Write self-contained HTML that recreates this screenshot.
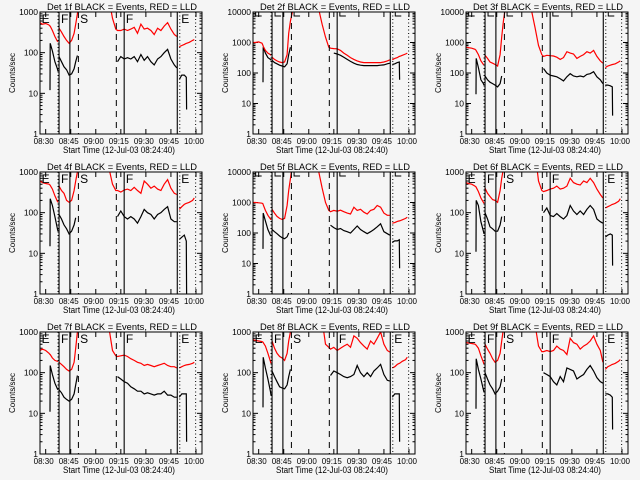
<!DOCTYPE html>
<html><head><meta charset="utf-8"><style>
html,body{margin:0;padding:0;background:#f5f5f5;}
svg{display:block;font-family:"Liberation Sans",sans-serif;}
</style></head><body>
<svg id="chart" width="640" height="480" viewBox="0 0 640 480" xmlns="http://www.w3.org/2000/svg">
<rect x="0" y="0" width="640" height="480" fill="#f5f5f5"/>
</svg>
<script>
// shared time grid (minutes relative to 08:30)
const times = [-3.4,-2,0,2,2.6,2.7,4,5.5,7,7.4, 8,9.5,11,12.5,14,15.5,17,18,19,20,21, 36,38,40,42,43,45,47,49,51,53,55,57,59,61,63,65,67,69,71,73,75,77,78.6, 80,81.5,83,84.2,84.4,86,88,89];
const segStarts = [0,10,21,44,52];
const xTickLabels = ["08:30","08:45","09:00","09:15","09:30","09:45","10:00"];
const xTickValues = [0,15,30,45,60,75,90];
const detNames = ["1f","2f","3f","4f","5f","6f","7f","8f","9f"];
const yMaxDecade = [3,4,4,3,4,3,3,3,3];
const dottedLines = [7.4,80.3,89.8];
const solidLines = [8,14.5,47,78.8];
const dashedLines = [19.6,42.3];
const markerLetters = ["E","F","S","F","E"];
const markerTimes = [-3.0,8.6,20.0,47.4,80.6];
const n = null;
const red1 = [550,500,520,480,450,450,350,250,190,185, 400,320,250,200,170,200,300,500,900,2000,5000, 5000,2000,700,380,350, 350,380,350,380,420,300,500,380,400,350,280,400,350,450,550,380,280, 250, 140,150,160,170,170,180,200,210];
const blk1 = [n,n,n,n,12,170,110,60,40,35, 80,60,45,38,28,30,40,60,85,n,n, n,n,n,n,60, 80,70,75,70,80,60,90,65,80,60,50,70,80,100,120,70,50, 42, 22,28,28,25,4,n,n,n];
const red2 = [1000,1000,1050,950,800,750,550,450,400,380, 330,280,250,230,220,230,400,2000,5000,9000,15000, 12000,4000,1500,700,650, 630,620,550,450,380,320,280,250,230,220,220,220,220,220,220,230,250, 270, 270,300,320,350,350,380,420,450];
const blk2 = [n,n,n,n,50,700,450,320,280,260, 260,220,200,180,170,160,200,400,700,n,n, n,n,n,n,n, 450,420,380,330,280,240,210,190,180,175,175,175,175,175,180,185,200, 210, 190,200,220,230,60,n,n,n];
const red3 = [700,680,650,600,560,540,400,250,190,180, 380,300,230,210,190,170,400,1500,5000,12000,20000, 10000,3000,800,400,350, 380,370,360,330,280,320,500,450,420,300,350,400,500,450,550,350,250, 210, 150,170,180,190,190,200,230,250];
const blk3 = [n,n,n,n,20,300,150,60,45,40, 80,60,50,45,40,35,45,80,n,n,n, n,n,n,n,140, 100,85,80,75,65,55,75,95,80,75,80,75,90,95,110,75,60, 45, 40,40,38,35,4,n,n,n];
const red4 = [600,550,520,500,480,470,380,260,190,180, 450,350,300,200,180,200,350,600,1000,3000,5000, 5000,1200,500,350,350, 320,360,380,350,420,350,300,600,500,400,450,380,350,500,650,400,300, 280, 120,140,160,170,170,180,200,230];
const blk4 = [n,n,n,n,15,220,150,80,40,35, 90,70,50,40,30,35,50,75,n,n,n, n,n,n,n,80, 110,80,70,80,70,55,80,120,100,90,70,90,100,120,140,70,60, 60, 22,25,28,20,1,n,n,n];
const red5 = [1000,1000,980,950,900,850,550,380,290,270, 600,450,350,300,280,300,800,2500,6000,15000,20000, 10000,3000,1000,550,500, 550,520,560,500,450,420,700,550,600,480,420,550,600,800,700,450,380, 380, 210,220,240,250,250,270,300,330];
const blk5 = [n,n,n,n,30,450,250,130,85,80, 130,110,95,80,70,65,75,100,n,n,n, n,n,n,n,180, 150,130,140,120,110,100,130,170,130,110,95,110,130,160,200,110,95, 85, 50,55,55,60,7,n,n,n];
const red6 = [550,520,500,450,430,420,330,230,180,170, 400,300,250,210,200,180,350,700,1200,3000,5000, 5000,3000,600,350,330, 350,380,400,450,380,400,450,700,550,500,480,600,550,700,550,380,280, 230, 130,140,150,160,160,170,190,220];
const blk6 = [n,n,n,n,11,200,150,60,35,30, 100,70,45,40,35,35,50,80,n,n,n, n,n,n,n,100, 130,85,80,95,80,70,85,150,110,90,110,90,120,150,120,70,60, 55, 25,28,30,28,5,n,n,n];
const red7 = [350,380,350,300,280,280,230,200,190,190, 180,160,140,120,110,120,180,400,1000,3000,5000, 3000,1200,350,260,250, 260,270,250,220,200,180,170,150,160,150,140,150,160,170,150,140,140, 130, 130,140,150,155,155,160,170,180];
const blk7 = [n,n,n,n,11,150,90,55,40,38, 38,32,25,22,20,22,30,50,85,n,n, n,n,n,n,80, 70,60,55,45,40,35,35,30,32,30,28,30,30,35,28,28,25, 25, 25,30,30,30,2,n,n,n];
const red8 = [650,620,600,580,560,550,450,300,190,170, 600,400,300,250,230,200,300,600,1000,3000,5000, 5000,2000,500,420,380, 420,350,400,450,500,420,800,700,550,450,380,600,500,700,1000,500,350, 320, 130,140,160,170,170,190,210,240];
const blk8 = [n,n,n,n,14,240,130,70,35,28, 110,80,60,45,42,40,50,80,120,n,n, n,n,n,n,85, 110,100,90,80,75,80,90,150,100,80,100,80,110,130,160,90,65, 62, 25,30,30,30,2,n,n,n];
const red9 = [550,540,520,500,480,470,400,260,180,160, 500,380,300,220,180,200,300,600,1200,3000,5000, 5000,1500,450,330,330, 350,330,350,450,380,350,280,700,550,500,380,450,500,600,800,500,350, 180, 120,140,150,160,160,170,190,210];
const blk9 = [n,n,n,n,13,220,120,70,38,33, 100,70,50,40,30,35,45,70,n,n,n, n,n,n,n,100, 90,80,60,50,80,60,130,120,110,70,80,90,120,150,110,75,60, 55, 30,30,28,25,4,n,n,n];
const redSeries = [red1,red2,red3,red4,red5,red6,red7,red8,red9];
const blackSeries = [blk1,blk2,blk3,blk4,blk5,blk6,blk7,blk8,blk9];

const NS = "http://www.w3.org/2000/svg";
const svg = document.getElementById("chart");
const colX = [40,253,466], rowY = [12,172,332], PW = 162, PH = 122;
const T0 = -3.4, T1 = -3.4 + 162/1.67;
function mk(tag, attrs, parent){const e=document.createElementNS(NS,tag);for(const k in attrs)e.setAttribute(k,attrs[k]);(parent||svg).appendChild(e);return e;}

for(let p=0;p<9;p++){
  const x0 = colX[p%3], y0 = rowY[Math.floor(p/3)], dmax = yMaxDecade[p];
  const xs = t => x0 + (t - T0)/(T1 - T0)*PW;
  const ys = v => y0 + PH - Math.log10(v)/dmax*PH;
  const g = mk("g",{});
  
  
  const cp = mk("clipPath",{id:"cp"+p},g);
  mk("rect",{x:x0,y:y0,width:PW,height:PH},cp);
  const title = mk("text",{x:x0+7,y:y0-2,"font-size":"9.5",textLength:"150",lengthAdjust:"spacingAndGlyphs"},g);
  title.textContent = "Det "+detNames[p]+" BLACK = Events, RED = LLD";
  
  
  const yl = mk("text",{x:0,y:0,"text-anchor":"middle","font-size":"8",transform:`translate(${x0-25},${y0+PH/2}) rotate(-90)`},g);
  yl.textContent = "Counts/sec";
  
  
  for(let d=0; d<=dmax; d++){
    const y = ys(Math.pow(10,d));
    mk("line",{x1:x0,x2:x0+5,y1:y,y2:y,stroke:"#000","stroke-width":1},g);
    mk("line",{x1:x0+PW-5,x2:x0+PW,y1:y,y2:y,stroke:"#000","stroke-width":1},g);
    const tl = mk("text",{x:x0-2,y:y+3,"text-anchor":"end","font-size":"8.5"},g);
    tl.textContent = String(Math.pow(10,d));
    
    
    if(d<dmax){for(let m=2;m<10;m++){const ym=ys(m*Math.pow(10,d));
      mk("line",{x1:x0,x2:x0+2.5,y1:ym,y2:ym,stroke:"#000","stroke-width":1},g);
      mk("line",{x1:x0+PW-2.5,x2:x0+PW,y1:ym,y2:ym,stroke:"#000","stroke-width":1},g);}}
  }
  xTickValues.forEach((tv,i)=>{
    const x = xs(tv);
    mk("line",{x1:x,x2:x,y1:y0+PH,y2:y0+PH-5,stroke:"#000"},g);
    mk("line",{x1:x,x2:x,y1:y0,y2:y0+5,stroke:"#000"},g);
    const xl = mk("text",{x:x-2,y:y0+PH+10,"text-anchor":"middle","font-size":"8"},g);
    xl.textContent = xTickLabels[i];
    
    
  });
  const xt = mk("text",{x:x0+23,y:y0+PH+19,"font-size":"9",textLength:"112",lengthAdjust:"spacingAndGlyphs"},g);
  xt.textContent = "Start Time (12-Jul-03 08:24:40)";
  
  
  const sg = mk("g",{"clip-path":`url(#cp${p})`},g);
  [[blackSeries[p],"#000","black-events-line"],[redSeries[p],"#ff0000","red-lld-line"]].forEach(([arr,col,nm])=>{
    let d="";
    for(let s=0;s<4;s++){
      let pen=false;
      for(let i=segStarts[s];i<segStarts[s+1];i++){
        const v=arr[i];
        if(v==null){pen=false;continue;}
        d += (pen?"L":"M")+xs(times[i]).toFixed(1)+","+ys(v).toFixed(1);
        pen=true;
      }
    }
    const path = mk("path",{d:d,fill:"none",stroke:col,"stroke-width":1.2},sg);
    
    
  });
  dottedLines.forEach(t=>{mk("line",{x1:xs(t),x2:xs(t),y1:y0,y2:y0+PH,stroke:"#000","stroke-dasharray":"1,2.5"},g);});
  solidLines.forEach(t=>{mk("line",{x1:xs(t),x2:xs(t),y1:y0,y2:y0+PH,stroke:"#000","stroke-width":1.1},g);});
  dashedLines.forEach(t=>{mk("line",{x1:xs(t),x2:xs(t),y1:y0,y2:y0+PH,stroke:"#000","stroke-dasharray":"6,5"},g);});
  if(dmax===3){
    markerLetters.forEach((L,i)=>{
      const tx = mk("text",{x:xs(markerTimes[i])+1,y:y0+11,"font-size":"12"},g);
      tx.textContent = L;
      
      
    });
  } else {
    markerTimes.forEach(t=>{const x=xs(t)+2;
      mk("path",{d:`M${x},${y0}V${y0+4}H${x+6}`,fill:"none",stroke:"#000"},g);});
  }
  const box = mk("rect",{x:x0,y:y0,width:PW,height:PH,fill:"none",stroke:"#000","stroke-width":1},g);
  
  
}
</script>
</body></html>
